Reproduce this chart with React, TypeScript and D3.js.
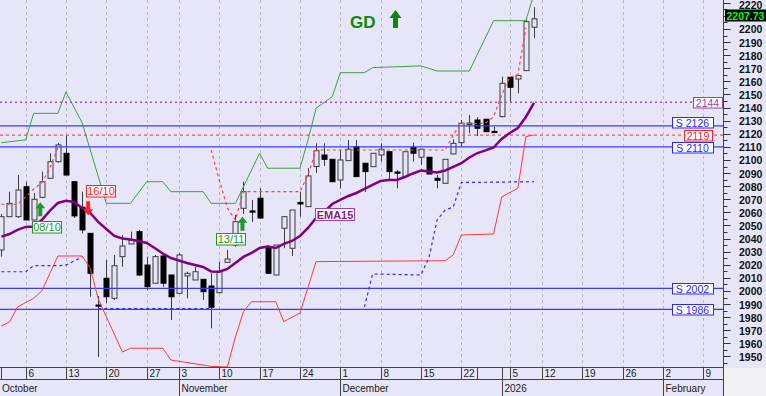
import React from 'react';
import * as d3 from 'd3';

// trading days shown on the x axis (holidays skipped), plus empty future days
const calendar: [string, number[]][] = [
  ['2025-10', [1, 2, 3, 6, 7, 8, 9, 10, 13, 14, 15, 16, 17, 20, 21, 22, 23, 24, 27, 29, 30, 31]],
  ['2025-11', [3, 4, 5, 6, 7, 10, 11, 12, 13, 14, 17, 18, 19, 20, 21, 24, 25, 26, 27, 28]],
  ['2025-12', [1, 2, 3, 4, 5, 8, 9, 10, 11, 12, 15, 16, 17, 18, 19, 22, 23, 29, 30, 31]],
  ['2026-01', [2, 5, 7, 8, 9, 12, 13, 14, 15, 16, 19, 20, 21, 22, 23, 26, 27, 28, 29, 30]],
  ['2026-02', [2, 3, 4, 5, 6, 9, 10, 11, 12]],
];
const days = calendar.flatMap(([m, ds]) => ds.map(d => `${m}-${String(d).padStart(2, '0')}`));

const openVals = [
  2031.3, 2056.7, 2056.7, 2079.6, 2054.2, 2071.5, 2086.0, 2098.7, 2105.1, 2083.4,
  2063.9, 2044.0, 1989.3, 2009.7, 1994.4, 2026.2, 2035.9, 2045.3, 2019.8, 2005.9,
  2026.7, 2012.2, 1998.2, 2011.5, 2008.4, 2008.9, 2003.8, 1998.7, 2021.9, 2035.1,
  2063.1, 2061.1, 2070.8, 2032.6, 2012.2, 2047.9, 2032.6, 2067.6, 2064.4, 2095.0,
  2103.8, 2100.5, 2084.7, 2099.5, 2110.2, 2097.5, 2094.9, 2103.8, 2106.3, 2090.8,
  2087.3, 2109.7, 2102.1, 2102.1, 2086.0, 2082.2, 2104.6, 2113.2, 2127.1, 2130.5,
  2131.1, 2121.8, 2133.1, 2163.1, 2161.8, 2168.2, 2201.3,
];
const highVals = [
  2058.8, 2075.8, 2088.5, 2083.4, 2074.8, 2091.1, 2105.1, 2113.0, 2119.1, 2083.4,
  2075.8, 2044.0, 1996.2, 2023.7, 2027.5, 2042.7, 2045.3, 2046.6, 2026.2, 2027.5,
  2028.8, 2012.2, 2028.8, 2014.7, 2018.5, 2008.9, 2013.5, 2022.4, 2031.3, 2058.0,
  2083.4, 2069.5, 2078.4, 2035.1, 2035.1, 2056.7, 2061.8, 2075.8, 2093.7, 2112.7,
  2112.7, 2100.5, 2107.6, 2115.3, 2115.3, 2097.5, 2105.1, 2112.7, 2106.3, 2092.4,
  2106.3, 2113.2, 2108.2, 2102.1, 2088.5, 2100.5, 2115.8, 2130.5, 2134.4, 2132.6,
  2131.1, 2125.4, 2163.6, 2163.1, 2164.4, 2206.9, 2216.6,
];
const lowVals = [
  2026.2, 2056.5, 2055.7, 2054.2, 2054.2, 2070.8, 2086.0, 2097.9, 2088.5, 2055.7,
  2044.0, 1995.6, 1949.6, 1990.6, 1993.1, 2018.5, 2035.9, 2011.5, 2000.8, 2005.9,
  2003.1, 1977.9, 1998.2, 1994.4, 2008.4, 1993.1, 1971.5, 1998.2, 2021.9, 2033.8,
  2058.8, 2052.7, 2055.0, 2013.5, 2012.2, 2032.6, 2026.7, 2056.7, 2064.4, 2090.1,
  2095.4, 2083.4, 2078.4, 2099.5, 2087.3, 2075.6, 2094.9, 2098.7, 2084.7, 2078.4,
  2087.3, 2098.7, 2096.2, 2089.3, 2078.4, 2082.2, 2104.6, 2110.2, 2120.4, 2118.3,
  2121.6, 2120.8, 2132.6, 2144.5, 2150.9, 2168.2, 2192.9,
];
const closeVals = [
  2056.7, 2066.9, 2077.1, 2054.2, 2070.0, 2083.4, 2098.7, 2111.5, 2088.5, 2057.3,
  2046.6, 2013.5, 1988.5, 1995.6, 2019.3, 2034.3, 2038.9, 2012.2, 2003.3, 2026.2,
  2005.9, 1995.6, 2027.5, 2013.5, 2014.7, 1999.5, 1987.6, 2014.7, 2024.4, 2052.9,
  2075.8, 2060.3, 2055.7, 2013.5, 2035.1, 2056.7, 2061.8, 2066.4, 2087.8, 2107.1,
  2100.5, 2083.4, 2100.0, 2108.2, 2087.3, 2091.1, 2105.1, 2108.2, 2091.1, 2090.1,
  2106.3, 2105.1, 2108.2, 2089.3, 2084.5, 2100.5, 2112.7, 2128.0, 2128.2, 2124.2,
  2121.6, 2121.4, 2158.5, 2155.5, 2164.4, 2205.6, 2207.73,
];
const ema15 = [
  2041.5, 2043.5, 2046.6, 2048.9, 2049.2, 2054.2, 2061.1, 2067.2, 2068.9, 2067.9,
  2063.4, 2059.5, 2052.7, 2047.3, 2042.0, 2040.1, 2039.3, 2038.2, 2036.6, 2032.8,
  2028.6, 2025.2, 2023.3, 2021.4, 2019.8, 2018.3, 2014.9, 2014.7, 2016.8, 2021.4,
  2026.0, 2029.0, 2032.8, 2034.0, 2032.8, 2035.9, 2038.2, 2042.0, 2048.1, 2055.7,
  2060.3, 2066.4, 2069.5, 2072.5, 2074.8, 2077.9, 2080.9, 2084.0, 2084.7, 2084.7,
  2087.0, 2089.7, 2092.0, 2091.2, 2090.5, 2092.0, 2094.7, 2097.5, 2101.9, 2105.3,
  2107.3, 2109.5, 2116.0, 2120.6, 2124.4, 2132.8, 2143.5,
];

// band lines, given at the days where they change direction
const upperBand: [string, number][] = [
  ['2025-10-01', 2113.2], ['2025-10-06', 2115.3], ['2025-10-07', 2135.6], ['2025-10-10', 2135.6],
  ['2025-10-13', 2151.9], ['2025-10-15', 2128.5], ['2025-10-20', 2066.9], ['2025-10-23', 2066.9],
  ['2025-10-27', 2083.4], ['2025-10-30', 2083.4], ['2025-10-31', 2075.8], ['2025-11-06', 2075.8],
  ['2025-11-07', 2066.9], ['2025-11-12', 2066.9], ['2025-11-17', 2105.1], ['2025-11-18', 2093.7],
  ['2025-11-24', 2093.7], ['2025-11-25', 2115.3], ['2025-11-26', 2139.5], ['2025-11-28', 2148.3],
  ['2025-12-01', 2166.6], ['2025-12-04', 2166.6], ['2025-12-05', 2170.5], ['2025-12-15', 2171.8],
  ['2025-12-17', 2167.9], ['2025-12-23', 2167.9], ['2025-12-31', 2206.3], ['2026-01-08', 2206.3],
  ['2026-01-09', 2226.7],
];
const lowerBand: [string, number][] = [
  ['2025-10-01', 1973.3], ['2025-10-02', 1976.3], ['2025-10-03', 1987.8], ['2025-10-07', 1994.4],
  ['2025-10-08', 2000.0], ['2025-10-10', 2026.7], ['2025-10-15', 2026.7], ['2025-10-16', 2017.6],
  ['2025-10-17', 1993.9], ['2025-10-22', 1953.4], ['2025-10-23', 1956.3], ['2025-10-30', 1956.3],
  ['2025-10-31', 1947.3], ['2025-11-06', 1943.5], ['2025-11-07', 1942.4], ['2025-11-11', 1942.0],
  ['2025-11-12', 1964.9], ['2025-11-13', 1984.3], ['2025-11-14', 1991.8], ['2025-11-19', 1991.8],
  ['2025-11-20', 1976.6], ['2025-11-24', 1983.2], ['2025-11-26', 2022.4], ['2025-12-18', 2023.1],
  ['2025-12-19', 2027.5], ['2025-12-22', 2042.7], ['2025-12-31', 2043.5], ['2026-01-02', 2071.8],
  ['2026-01-07', 2078.4], ['2026-01-08', 2117.8], ['2026-01-09', 2119.1],
];
const stopSegments: [string, number][][] = [
  [['2025-10-01', 2066.2], ['2025-10-03', 2066.2], ['2025-10-06', 2071.8], ['2025-10-07', 2077.9],
   ['2025-10-08', 2082.4], ['2025-10-09', 2093.9], ['2025-10-10', 2109.2]],
  [['2025-11-07', 2107.6], ['2025-11-10', 2084.7], ['2025-11-11', 2063.4], ['2025-11-12', 2054.2],
   ['2025-11-13', 2075.8], ['2025-11-24', 2075.8], ['2025-11-25', 2088.5], ['2025-11-26', 2107.6],
   ['2025-12-18', 2107.6], ['2025-12-19', 2119.1], ['2025-12-22', 2128.0], ['2025-12-30', 2128.0],
   ['2025-12-31', 2133.1], ['2026-01-02', 2149.6], ['2026-01-05', 2163.4], ['2026-01-07', 2164.9],
   ['2026-01-08', 2200.8]],
];
const supportSegments: [string, number][][] = [
  [['2025-10-01', 2014.7], ['2025-10-06', 2014.7], ['2025-10-07', 2019.3], ['2025-10-10', 2019.3],
   ['2025-10-13', 2019.8], ['2025-10-15', 2025.9]],
  [['2025-10-17', 1986.5], ['2025-11-07', 1986.5]],
  [['2025-12-04', 1987.8], ['2025-12-05', 2013.0], ['2025-12-15', 2012.2], ['2025-12-16', 2025.8],
   ['2025-12-17', 2054.2], ['2025-12-18', 2061.8], ['2025-12-19', 2064.1], ['2025-12-22', 2082.8],
   ['2026-01-09', 2083.4]],
];

const supportLevels = [2126, 2110, 2002, 1986];
const emaLevel = 2144;
const stopLevel = 2119;
const lastPrice = 2207.73;

const priceTicks = d3.range(1945, 2225, 5);
const weekTicks: [string, string][] = [
  ['2025-10-06', '6'], ['2025-10-13', '13'], ['2025-10-20', '20'], ['2025-10-27', '27'],
  ['2025-11-03', '3'], ['2025-11-10', '10'], ['2025-11-17', '17'], ['2025-11-24', '24'],
  ['2025-12-01', '1'], ['2025-12-08', '8'], ['2025-12-15', '15'], ['2025-12-22', '22'],
  ['2025-12-29', ''], ['2026-01-05', '5'], ['2026-01-12', '12'], ['2026-01-19', '19'],
  ['2026-01-26', '26'], ['2026-02-02', '2'], ['2026-02-09', '9'],
];
const monthMarks: [string, string][] = [
  ['2025-11-03', 'November'], ['2025-12-01', 'December'], ['2026-01-02', '2026'], ['2026-02-02', 'February'],
];
const signals = [
  {date: '2025-10-08', label: '08/10', dir: 'up'},
  {date: '2025-10-16', label: '16/10', dir: 'down'},
  {date: '2025-11-13', label: '13/11', dir: 'up'},
];

const BG = '#e6e6f8';
const FONT = 'Liberation Sans, Arial, sans-serif';

function upArrow(cx: number, ty: number, h = 14, w = 10, head = 6, shaft = 4) {
  return `M${cx},${ty}L${cx + w / 2},${ty + head}L${cx + shaft / 2},${ty + head}L${cx + shaft / 2},${ty + h}` +
    `L${cx - shaft / 2},${ty + h}L${cx - shaft / 2},${ty + head}L${cx - w / 2},${ty + head}Z`;
}
function downArrow(cx: number, by: number, h = 14, w = 10, head = 6, shaft = 4) {
  return `M${cx},${by}L${cx + w / 2},${by - head}L${cx + shaft / 2},${by - head}L${cx + shaft / 2},${by - h}` +
    `L${cx - shaft / 2},${by - h}L${cx - shaft / 2},${by - head}L${cx - w / 2},${by - head}Z`;
}

export default function App() {
  const W = 766, H = 396;
  const PR = 723.5, PB = 367.5, ROW = 379.5;
  const idx = new Map(days.map((d, i) => [d, i]));
  const x = d3.scaleLinear().domain([0, 87]).range([1.4, 703.4]);
  const y = d3.scaleLinear().domain([1941.6, 2222.1]).range([PB, 0]);
  const xd = (d: string) => x(idx.get(d)!);
  const seg = d3.line<[string, number]>().x(d => xd(d[0])).y(d => y(d[1]));
  const emaLine = d3.line<number>().x((_, i) => x(i)).y(d => y(d));
  const crisp = (v: number) => Math.round(v) + 0.5;
  const lastY = Math.round(y(lastPrice));

  const boxes = [
    ...supportLevels.map(v => ({v, text: `S ${v}`, color: '#2a2aff', right: 713, w: 41, dy: v === 2126 ? -3 : v === 2110 ? 1 : 0})),
    {v: emaLevel, text: `${emaLevel}`, color: '#a040a8', right: 722, w: 29, dy: 0},
    {v: stopLevel, text: `${stopLevel}`, color: '#ff2020', right: 712, w: 28, dy: 0.5},
  ];

  const sigLayout: Record<string, {dx: number, gap: number, bx: number, by: number}> = {
    '08/10': {dx: -1.5, gap: 4, bx: -8.5, by: 19},
    '16/10': {dx: -2, gap: -18, bx: -2.5, by: -30},
    '13/11': {dx: -1, gap: 2.7, bx: -26, by: 16.5},
  };

  return (
    <div style={{position: 'fixed', left: 0, top: 0}}>
      <svg width={W} height={H} viewBox={`0 0 ${W} ${H}`} style={{display: 'block', fontFamily: FONT}}>
        <defs>
          <clipPath id="plot"><rect x={0} y={0} width={PR} height={PB}/></clipPath>
        </defs>
        <rect x={0} y={0} width={W} height={H} fill={BG}/>
        <rect x={PR + 0.5} y={PB + 0.5} width={W - PR} height={H - PB} fill="#f2f2f4"/>

        {/* weekly grid */}
        {weekTicks.filter(t => t[1] !== '').map(([d]) => (
          <line key={d} x1={crisp(xd(d))} x2={crisp(xd(d))} y1={0} y2={PB}
                stroke="#b8b8c8" strokeDasharray="3,3"/>
        ))}

        <g clipPath="url(#plot)">
          {/* candles */}
          {closeVals.map((c, i) => {
            const o = openVals[i];
            const cx = Math.round(x(i));
            const top = y(Math.max(o, c)), bot = y(Math.min(o, c));
            const up = c > o;
            return (
              <g key={i}>
                <line x1={cx + 0.5} x2={cx + 0.5} y1={y(highVals[i])} y2={y(lowVals[i])} stroke="#3c3c3c"/>
                <rect x={cx - 2} y={top} width={5} height={Math.max(1.2, bot - top)}
                      fill={up ? BG : '#000'} stroke={up ? '#3c3c3c' : '#000'} strokeWidth={1}/>
              </g>
            );
          })}

          {/* levels */}
          {supportLevels.map(v => (
            <line key={v} x1={0} x2={PR} y1={y(v)} y2={y(v)} stroke="#3a3aff" strokeWidth={1.3}/>
          ))}
          <line x1={0} x2={PR} y1={y(stopLevel)} y2={y(stopLevel)} stroke="#ff5050" strokeWidth={1.2} strokeDasharray="3,3"/>
          <line x1={0} x2={694} y1={y(emaLevel)} y2={y(emaLevel)} stroke="#a050b0" strokeWidth={1.5} strokeDasharray="2,3"/>

          {/* bands */}
          <path d={seg(upperBand)!} fill="none" stroke="#3f9f3f" strokeWidth={1}/>
          <path d={seg(lowerBand)!} fill="none" stroke="#ff3a3a" strokeWidth={1}/>
          {supportSegments.map((s, k) => (
            <path key={k} d={seg(s)!} fill="none" stroke="#2a2aff" strokeWidth={1.2} strokeDasharray="3,3"/>
          ))}
          {stopSegments.map((s, k) => (
            <path key={k} d={seg(s)!} fill="none" stroke="#ff4040" strokeWidth={1.2} strokeDasharray="3,3"/>
          ))}
          <path d={emaLine(ema15)!} fill="none" stroke="#800080" strokeWidth={2.5}/>
        </g>

        {/* level labels */}
        {boxes.map(b => {
          const cy = y(b.v) + b.dy;
          const top = Math.round(cy - 5.5) + 0.5;
          return (
            <g key={b.text}>
              <rect x={b.right - b.w + 0.5} y={top} width={b.w} height={10.5}
                    fill="#fff" stroke={b.color}/>
              <text x={b.right - b.w / 2} y={top + 9} textAnchor="middle"
                    fontSize={10.5} fill={b.color}>{b.text}</text>
            </g>
          );
        })}

        {/* signals */}
        {signals.map(s => {
          const i = idx.get(s.date)!;
          const L = sigLayout[s.label];
          const cx = x(i) + L.dx;
          const color = s.dir === 'up' ? '#1f9a1f' : '#ff2020';
          const tip = s.dir === 'up' ? y(lowVals[i]) + L.gap : y(highVals[i]) + L.gap;
          const boxY = Math.round(tip + L.by) + 0.5;
          return (
            <g key={s.label}>
              <path d={s.dir === 'up' ? upArrow(cx, tip) : downArrow(cx, tip)} fill={color}/>
              <rect x={Math.round(cx + L.bx) + 0.5} y={boxY} width={29} height={11.5} fill="#fff" stroke={color}/>
              <text x={Math.round(cx + L.bx) + 15} y={boxY + 9.8} textAnchor="middle" fontSize={11} fill={color}>
                {s.label}
              </text>
            </g>
          );
        })}

        {/* EMA label */}
        <rect x={315.5} y={208.5} width={39} height={12} fill="#fff" stroke="#a040a8"/>
        <text x={335} y={218.5} textAnchor="middle" fontSize={11} fontWeight="bold" fill="#8a1a8a">EMA15</text>

        {/* GD */}
        <text x={350} y={28} fontSize={17} fontWeight="bold" fill="#0a8a0a">GD</text>
        <path d={upArrow(395.5, 10, 18, 12, 8, 5)} fill="#0a8a0a"/>

        {/* right axis */}
        <line x1={PR} x2={PR} y1={0} y2={H} stroke="#444"/>
        {priceTicks.map(v => (
          <line key={v} x1={PR} x2={v % 10 === 0 ? PR + 7 : PR + 4} y1={crisp(y(v))} y2={crisp(y(v))} stroke="#333"/>
        ))}
        {priceTicks.filter(v => v % 10 === 0 && Math.abs(y(v) - (lastY - 3.5)) > 10).map(v => (
          <text key={v} x={739} y={Math.max(y(v) + 4.5, 9)} fontSize={10.5} fontWeight="bold" fill="#111">{v}</text>
        ))}
        <rect x={725} y={lastY - 9.5} width={41} height={12} fill="#000"/>
        <text x={726.5} y={lastY + 0.5} fontSize={10.5} fontWeight="bold" fill="#00ff00">
          {lastPrice.toFixed(2)}
        </text>

        {/* bottom axis */}
        <line x1={0} x2={PR} y1={PB} y2={PB} stroke="#444"/>
        <line x1={0} x2={PR} y1={ROW} y2={ROW} stroke="#444"/>
        <line x1={1.5} x2={1.5} y1={PB} y2={ROW} stroke="#444"/>
        {weekTicks.map(([d, label]) => (
          <g key={d}>
            <line x1={crisp(xd(d))} x2={crisp(xd(d))} y1={PB} y2={ROW} stroke="#444"/>
            <text x={crisp(xd(d)) + 2} y={377} fontSize={10} fill="#222">{label}</text>
          </g>
        ))}
        <text x={2} y={392} fontSize={10} fill="#222">October</text>
        {monthMarks.map(([d, label]) => (
          <g key={d}>
            <line x1={crisp(xd(d))} x2={crisp(xd(d))} y1={PB} y2={H} stroke="#444"/>
            <text x={crisp(xd(d)) + 2} y={392} fontSize={10} fill="#222">{label}</text>
          </g>
        ))}
      </svg>
    </div>
  );
}
